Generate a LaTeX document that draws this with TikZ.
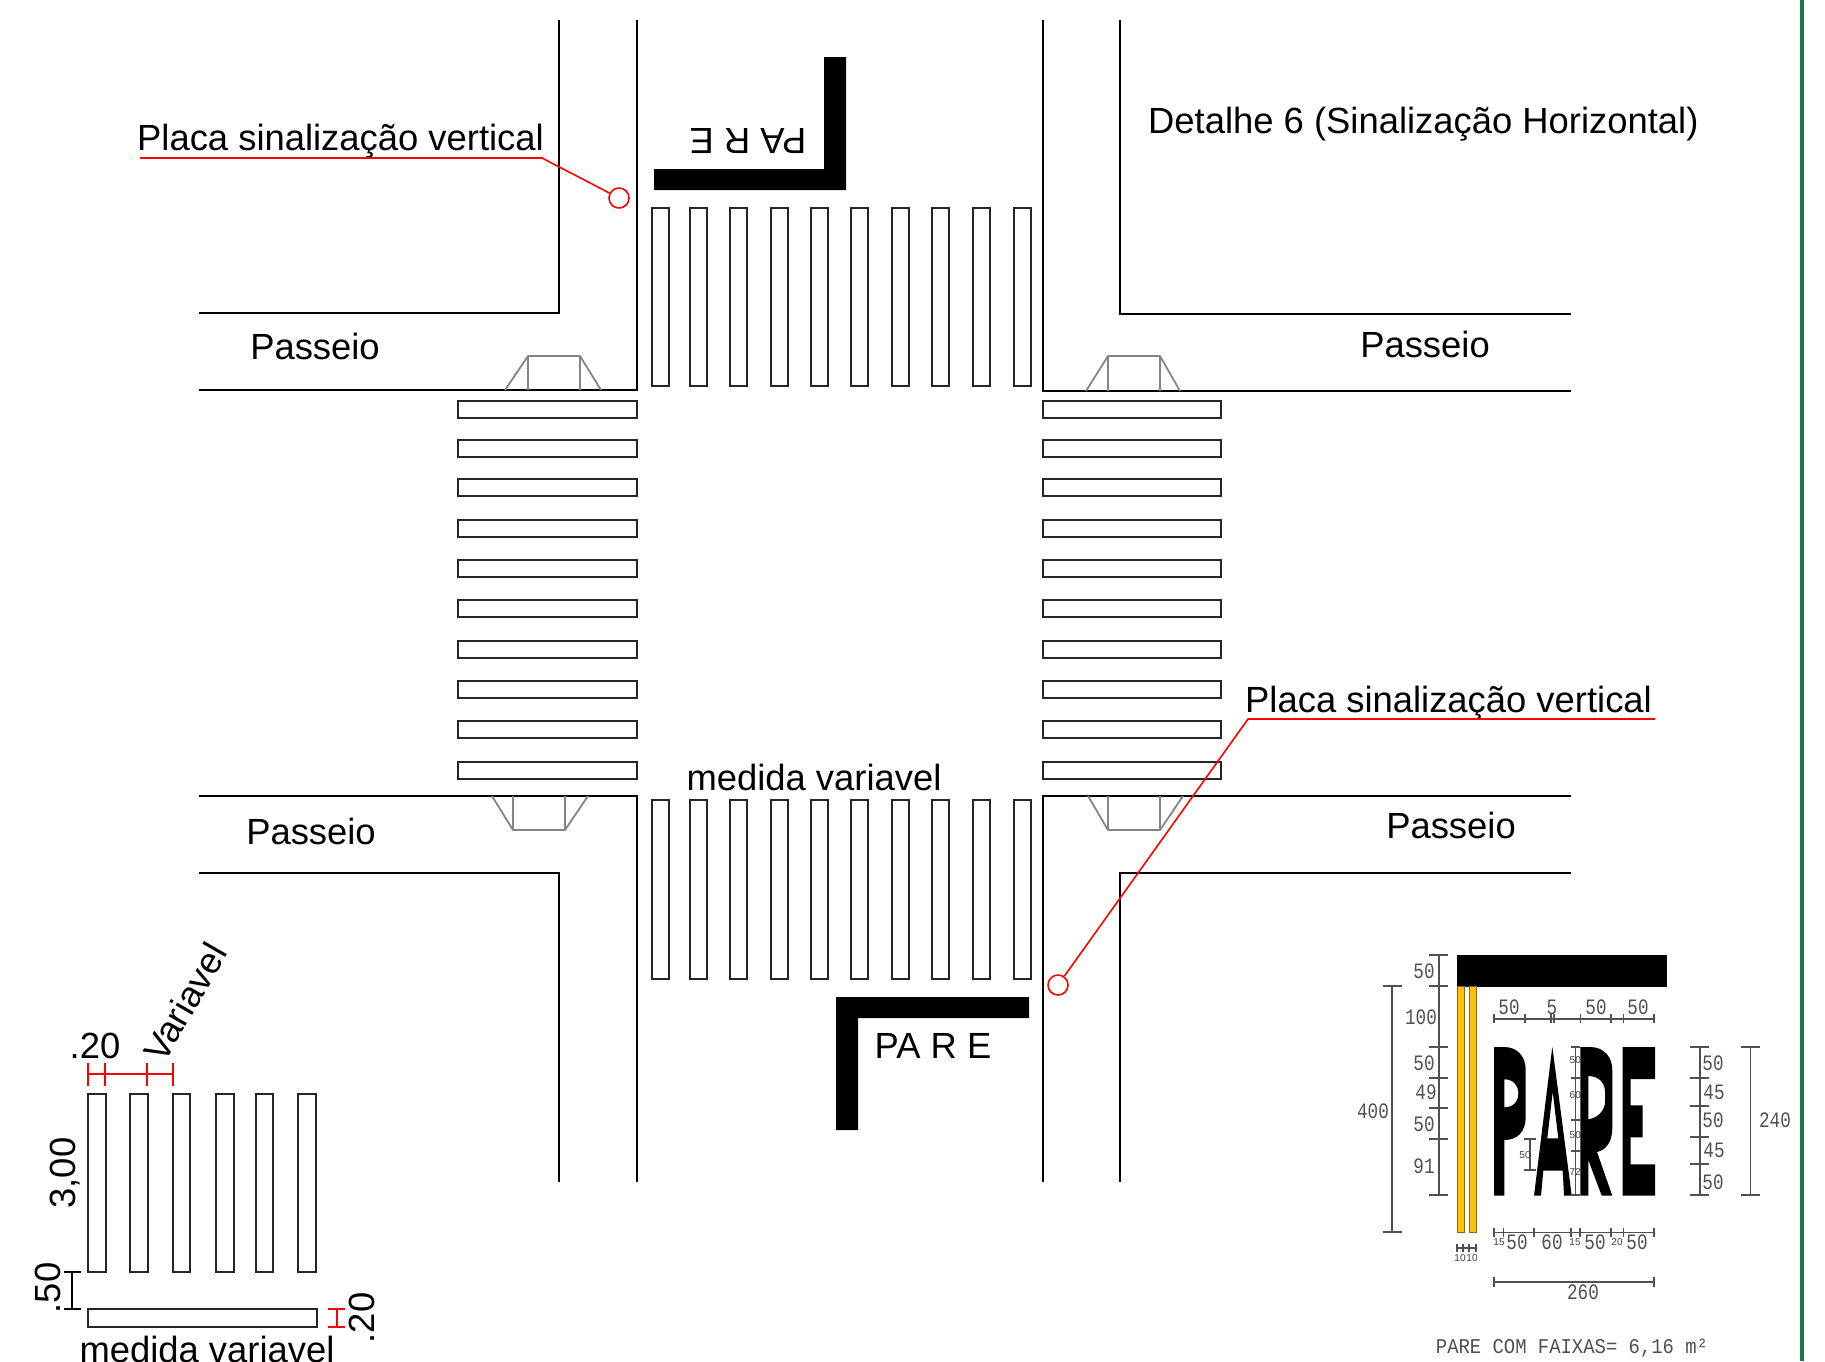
\documentclass[tikz,border=0pt]{standalone}
\usepackage{fontspec}
\setmainfont{Liberation Sans}
\newfontfamily\cadfont[FakeStretch=0.8]{Liberation Mono}
\newfontfamily\footfont[FakeStretch=0.9]{Liberation Mono}
\definecolor{strip}{HTML}{FFC000}
\definecolor{stripedge}{HTML}{7A6A30}
\definecolor{dimgray}{HTML}{505050}
\definecolor{rampgray}{HTML}{858585}
\definecolor{edgegreen}{HTML}{1B7A43}
\tikzset{
  road/.style={black,line width=2pt},
  bar/.style={draw=black!85,line width=2pt,fill=white},
  ramp/.style={rampgray,line width=1.8pt,line join=round},
  redline/.style={red,line width=1.6pt},
  dimline/.style={dimgray,line width=1.2pt},
  blackdim/.style={black,line width=1.4pt},
  lbl/.style={inner sep=0pt,font=\fontsize{36.4}{37}\selectfont,text=black},
  cad/.style={inner sep=0pt,font=\cadfont\fontsize{22}{22}\selectfont,text=dimgray},
  cads/.style={inner sep=0pt,font=\fontsize{10}{10}\selectfont,text=dimgray!80!black},
  signring/.style={draw=red,line width=1.6pt,circle,minimum size=20pt,inner sep=0pt},
}
\begin{document}
\begin{tikzpicture}[x=1pt,y=-1pt]
\useasboundingbox (0,0) rectangle (1825,1361);
\clip (0,0) rectangle (1825,1361);
% edge of sheet
\draw[edgegreen,line width=4pt] (1802,0) -- (1802,1361);
% kerbs
\draw[road] (559,20) -- (559,313) -- (199,313);
\draw[road] (199,390) -- (637,390) -- (637,20);
\draw[road] (1120,20) -- (1120,314) -- (1571,314);
\draw[road] (1571,391) -- (1043,391) -- (1043,20);
\draw[road] (199,796) -- (637,796) -- (637,1182);
\draw[road] (199,873) -- (559,873) -- (559,1182);
\draw[road] (1571,796) -- (1043,796) -- (1043,1182);
\draw[road] (1571,873) -- (1120,873) -- (1120,1182);
% crossings
\foreach \x in {652,690,730,771,811,851,892,932,973,1014} {
  \draw[bar] (\x,208) rectangle +(17,178);
  \draw[bar] (\x,800) rectangle +(17,179);
}
\foreach \y in {401,439.5,479,519.5,560,600,640.5,681,721,762} {
  \draw[bar] (458,\y) rectangle +(179,17);
  \draw[bar] (1043,\y) rectangle +(178,17);
}
% ramps
\draw[ramp] (505,390) -- (528,356) -- (580,356) -- (601,390) (528,356) -- (528,390) (580,356) -- (580,390);
\draw[ramp] (1086,391) -- (1108,356) -- (1160,356) -- (1180,391) (1108,356) -- (1108,391) (1160,356) -- (1160,391);
\draw[ramp] (492,796) -- (513,830) -- (565,830) -- (588,796) (513,830) -- (513,796) (565,830) -- (565,796);
\draw[ramp] (1088,796) -- (1108,830) -- (1160,830) -- (1183,796) (1108,830) -- (1108,796) (1160,830) -- (1160,796);
% stop lines
\fill[black] (824,57) -- (846,57) -- (846,190) -- (654,190) -- (654,169) -- (824,169) -- cycle;
\fill[black] (836,997) -- (1029,997) -- (1029,1018) -- (858,1018) -- (858,1130) -- (836,1130) -- cycle;
\node[lbl,rotate=180] (pareTop) at (748,141) {PA R E};
\node[lbl] (pareBot) at (933,1046) {PA R E};
% labels
\node[lbl,anchor=west] (placaA) at (137,141) {Placa sinalização vertical};
\node[lbl,anchor=west] (placaB) at (1245,703) {Placa sinalização vertical};
\node[lbl,anchor=west] (detalhe) at (1148,124) {Detalhe 6 (Sinalização Horizontal)};
\node[lbl] (pas1) at (315,346) {Passeio};
\node[lbl] (pas2) at (1425,344) {Passeio};
\node[lbl] (pas3) at (311,831) {Passeio};
\node[lbl] (pas4) at (1451,825) {Passeio};
\node[lbl] (medida) at (814,777) {medida variavel};
% leaders
\node[signring] (signA) at (619,198) {};
\node[signring] (signB) at (1058,985) {};
\coordinate (la0) at (140,158);
\coordinate (la1) at (542,158);
\coordinate (lb0) at (1655,719);
\coordinate (lb1) at (1248,719);
\draw[redline] (la0) -- (la1) -- (signA);
\draw[redline] (lb0) -- (lb1) -- (signB);
% detail bottom left
\foreach \x in {88,130,172.7,216,255.7,298}
  \draw[bar] (\x,1093.7) rectangle +(17.7,178.3);
\draw[bar] (88,1309) rectangle (316.7,1326.7);
\draw[redline] (88,1074) -- (172.7,1074);
\foreach \x in {88,105,147,172.7}
  \draw[redline] (\x,1063) -- (\x,1086);
\draw[redline] (337,1309) -- (337,1327) (328,1309) -- (345,1309) (328,1327) -- (345,1327);
\draw[blackdim] (72,1272) -- (72,1309) (64,1272) -- (81,1272) (64,1309) -- (81,1309);
\node[lbl] (d20) at (95,1046) {.20};
\node[lbl,rotate=60] (dvar) at (185,1002) {Variavel};
\node[lbl,rotate=90] (d300) at (65,1173) {3,00};
\node[lbl,rotate=90] (d50) at (48,1288) {.50};
\node[lbl,rotate=90] (d20b) at (362,1318) {.20};
\node[lbl,anchor=base] (dmed) at (207,1362) {medida variavel};
% PARE detail: bar and strips
\fill[black] (1457,955) rectangle (1667,986.7);
\draw[stripedge,fill=strip,line width=1pt] (1457.5,986.7) rectangle (1464,1232);
\draw[stripedge,fill=strip,line width=1pt] (1469.5,986.7) rectangle (1476,1232);
% P
\fill[black,even odd rule] (1494,1047) -- (1504,1047) .. controls (1518,1047) and (1525.7,1057) .. (1525.7,1070) -- (1525.7,1117) .. controls (1525.7,1131) and (1518,1140) .. (1504.3,1140) -- (1504.3,1195.7) -- (1494,1195.7) -- cycle
 (1504.3,1079.3) -- (1504.3,1107.3) .. controls (1513,1107.3) and (1518.3,1102) .. (1518.3,1093) .. controls (1518.3,1085) and (1513,1079.3) .. (1504.3,1079.3) -- cycle;
% A
\fill[black,even odd rule] (1552.3,1046.7) -- (1571.7,1195.7) -- (1564,1195.7) -- (1562.7,1170.7) -- (1543.3,1170.7) -- (1541,1195.7) -- (1534,1195.7) -- cycle
 (1552.7,1091.7) -- (1547.3,1138.3) -- (1558.3,1138.3) -- cycle;
% R
\fill[black,even odd rule] (1580.3,1047) -- (1590,1047) .. controls (1604,1047) and (1612.3,1057) .. (1612.3,1070) -- (1612.3,1128) .. controls (1612.3,1142) and (1606,1150) .. (1597,1152) -- (1612.3,1195.7) -- (1601.7,1195.7) -- (1588.3,1160) -- (1588.3,1195.7) -- (1580.3,1195.7) -- cycle
 (1588.3,1076) -- (1588.3,1119.3) .. controls (1598,1118) and (1605,1110) .. (1605,1102) -- (1605,1092) .. controls (1605,1082) and (1598,1076) .. (1588.3,1076) -- cycle;
% E
\fill[black] (1622.7,1047) -- (1655,1047) -- (1655,1079) -- (1630.7,1079) -- (1630.7,1105.3) -- (1642.7,1105.3) -- (1642.7,1137.3) -- (1630.7,1137.3) -- (1630.7,1164.3) -- (1655,1164.3) -- (1655,1195.7) -- (1622.7,1195.7) -- cycle;
% dimensions
\draw[dimline] (1392,986) -- (1392,1232) (1382.7,986) -- (1401.7,986) (1382.7,1232) -- (1401.7,1232);
\draw[dimline] (1439,955) -- (1439,1195);
\foreach \y in {955,986,1047,1078,1108,1139,1195}
  \draw[dimline] (1429,\y) -- (1448,\y);
\draw[dimline] (1494,1019) -- (1654,1019);
\foreach \x in {1494,1525,1551,1554,1580.3,1611,1623.7,1654}
  \draw[dimline] (\x,1014) -- (\x,1023);
\draw[dimline] (1700,1047) -- (1700,1195);
\foreach \y in {1047,1078,1106,1137,1164,1195}
  \draw[dimline] (1690,\y) -- (1709,\y);
\draw[dimline] (1750.7,1047) -- (1750.7,1195) (1741,1047) -- (1760,1047) (1741,1195) -- (1760,1195);
\draw[dimline] (1494,1232.7) -- (1654,1232.7);
\foreach \x in {1494,1503.7,1534,1571,1580,1611,1623.7,1654}
  \draw[dimline] (\x,1228) -- (\x,1237);
\draw[dimline] (1457,1248) -- (1476,1248);
\foreach \x in {1457,1463,1469,1476}
  \draw[dimline] (\x,1244) -- (\x,1252);
\draw[dimline] (1494,1282) -- (1654,1282) (1494,1277) -- (1494,1287) (1654,1277) -- (1654,1287);
\draw[dimline] (1575.7,1047) -- (1575.7,1195);
\foreach \y in {1047,1078,1120,1151,1195}
  \draw[dimline] (1571,\y) -- (1580,\y);
\draw[dimline] (1530,1139) -- (1530,1170) (1524,1139) -- (1536,1139) (1524,1170) -- (1536,1170);
% dimension texts
\node[cad] (t400) at (1373,1111) {400};
\node[cad] (t1) at (1424,971) {50};
\node[cad] (t2) at (1421,1017) {100};
\node[cad] (t3) at (1424,1063) {50};
\node[cad] (t4) at (1426,1092) {49};
\node[cad] (t5) at (1424,1124) {50};
\node[cad] (t6) at (1424,1166) {91};
\node[cad] (t7) at (1509,1007) {50};
\node[cad] (t8) at (1552,1007) {5};
\node[cad] (t9) at (1596,1007) {50};
\node[cad] (t10) at (1638,1007) {50};
\node[cad] (t11) at (1713,1063) {50};
\node[cad] (t12) at (1714,1092) {45};
\node[cad] (t13) at (1713,1120) {50};
\node[cad] (t14) at (1714,1150) {45};
\node[cad] (t15) at (1713,1182) {50};
\node[cad] (t240) at (1775,1120) {240};
\node[cad] (t16) at (1517,1242) {50};
\node[cad] (t17) at (1552,1242) {60};
\node[cad] (t18) at (1595,1242) {50};
\node[cad] (t19) at (1637,1242) {50};
\node[cad] (t260) at (1583,1292) {260};
\node[cads] (s1) at (1499,1242) {15};
\node[cads] (s2) at (1575,1242) {15};
\node[cads] (s3) at (1617,1242) {20};
\node[cads] (s4) at (1460,1258) {10};
\node[cads] (s5) at (1472,1258) {10};
\node[cads] (s6) at (1525,1155) {50};
\node[cads,anchor=east] (s7) at (1581,1060) {50};
\node[cads,anchor=east] (s8) at (1581,1095) {60};
\node[cads,anchor=east] (s9) at (1581,1135) {50};
\node[cads,anchor=east] (s10) at (1581,1172) {72};
\node[inner sep=0pt,font=\footfont\fontsize{21}{21}\selectfont,text=dimgray] (foot) at (1572,1348) {PARE COM FAIXAS= 6,16 m²};
\end{tikzpicture}
\end{document}
